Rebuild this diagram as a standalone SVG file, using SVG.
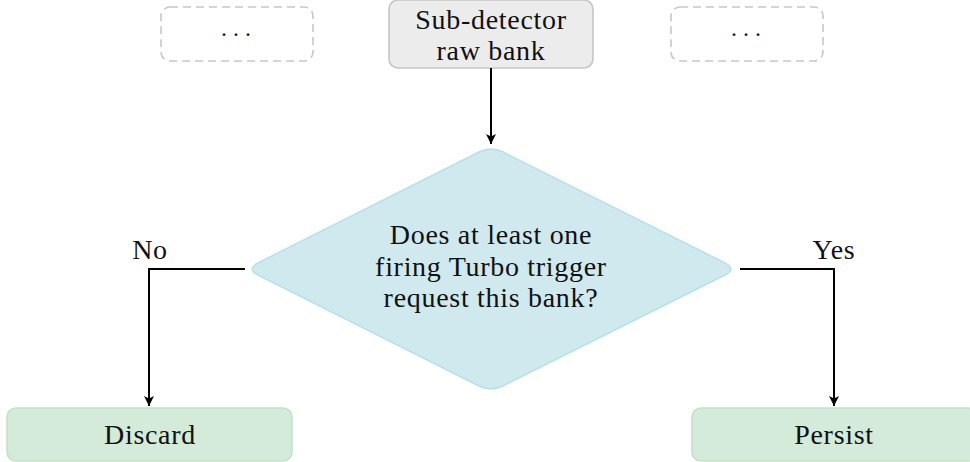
<svg xmlns="http://www.w3.org/2000/svg" width="970" height="462" viewBox="0 0 970 462">
  <defs>
    <style>
      text { font-family: "Liberation Serif", "DejaVu Serif", serif; fill: #111; }
      .lbl { font-size: 28px; letter-spacing: 0.7px; text-anchor: middle; }
      .dot { font-size: 24px; letter-spacing: 0px; text-anchor: middle; }
      .gray { fill: #ececec; stroke: #c6c6c6; stroke-width: 1.6; }
      .dash { fill: none; stroke: #c8c8c8; stroke-width: 1.6; stroke-dasharray: 8 5; }
      .dia { fill: #cfe9ee; stroke: #b9e1e9; stroke-width: 1.6; }
      .green { fill: #d3ebd8; stroke: #c2e3c9; stroke-width: 1.6; }
      .conn { fill: none; stroke: #000; stroke-width: 2; }
    </style>
    <marker id="arr" viewBox="0 0 10 10" refX="10" refY="5" markerWidth="10" markerHeight="10" markerUnits="userSpaceOnUse" orient="auto">
      <path d="M0,0 L10,5 L0,10 L2.5,5 Z" fill="#000"/>
    </marker>
  </defs>

  <g id="dots-left">
    <rect class="dash" x="161" y="7" width="152" height="54" rx="9"/>
    <text class="dot" x="236" y="36">. . .</text>
  </g>
  <g id="raw-bank">
    <rect class="gray" x="389" y="0" width="204" height="68" rx="9"/>
    <text class="lbl" x="491" y="29">Sub-detector</text>
    <text class="lbl" x="491" y="60">raw bank</text>
  </g>
  <g id="dots-right">
    <rect class="dash" x="671" y="7" width="152" height="54" rx="9"/>
    <text class="dot" x="746" y="36">. . .</text>
  </g>
  <g id="decision">
    <path class="dia" d="M258.5,262.7 L478.5,152.3 Q491,146 503.5,152.3 L724.5,262.7 Q737,269 724.5,275.3 L503.5,385.7 Q491,392 478.5,385.7 L258.5,275.3 Q246,269 258.5,262.7 Z"/>
    <text class="lbl" x="491" y="244">Does at least one</text>
    <text class="lbl" x="491" y="276">firing Turbo trigger</text>
    <text class="lbl" x="491" y="307">request this bank?</text>
  </g>
  <g id="discard">
    <rect class="green" x="7" y="408" width="285" height="53" rx="9"/>
    <text class="lbl" x="150" y="444">Discard</text>
  </g>
  <g id="persist">
    <rect class="green" x="692" y="408" width="285" height="53" rx="9"/>
    <text class="lbl" x="834" y="444">Persist</text>
  </g>

  <g id="connectors">
    <path class="conn" d="M491,68 L491,144" marker-end="url(#arr)"/>
    <path class="conn" d="M245,269 L149,269 L149,406" marker-end="url(#arr)"/>
    <path class="conn" d="M740,269 L834,269 L834,406" marker-end="url(#arr)"/>
    <text class="lbl" x="150" y="259">No</text>
    <text class="lbl" x="834" y="259">Yes</text>
  </g>
</svg>
